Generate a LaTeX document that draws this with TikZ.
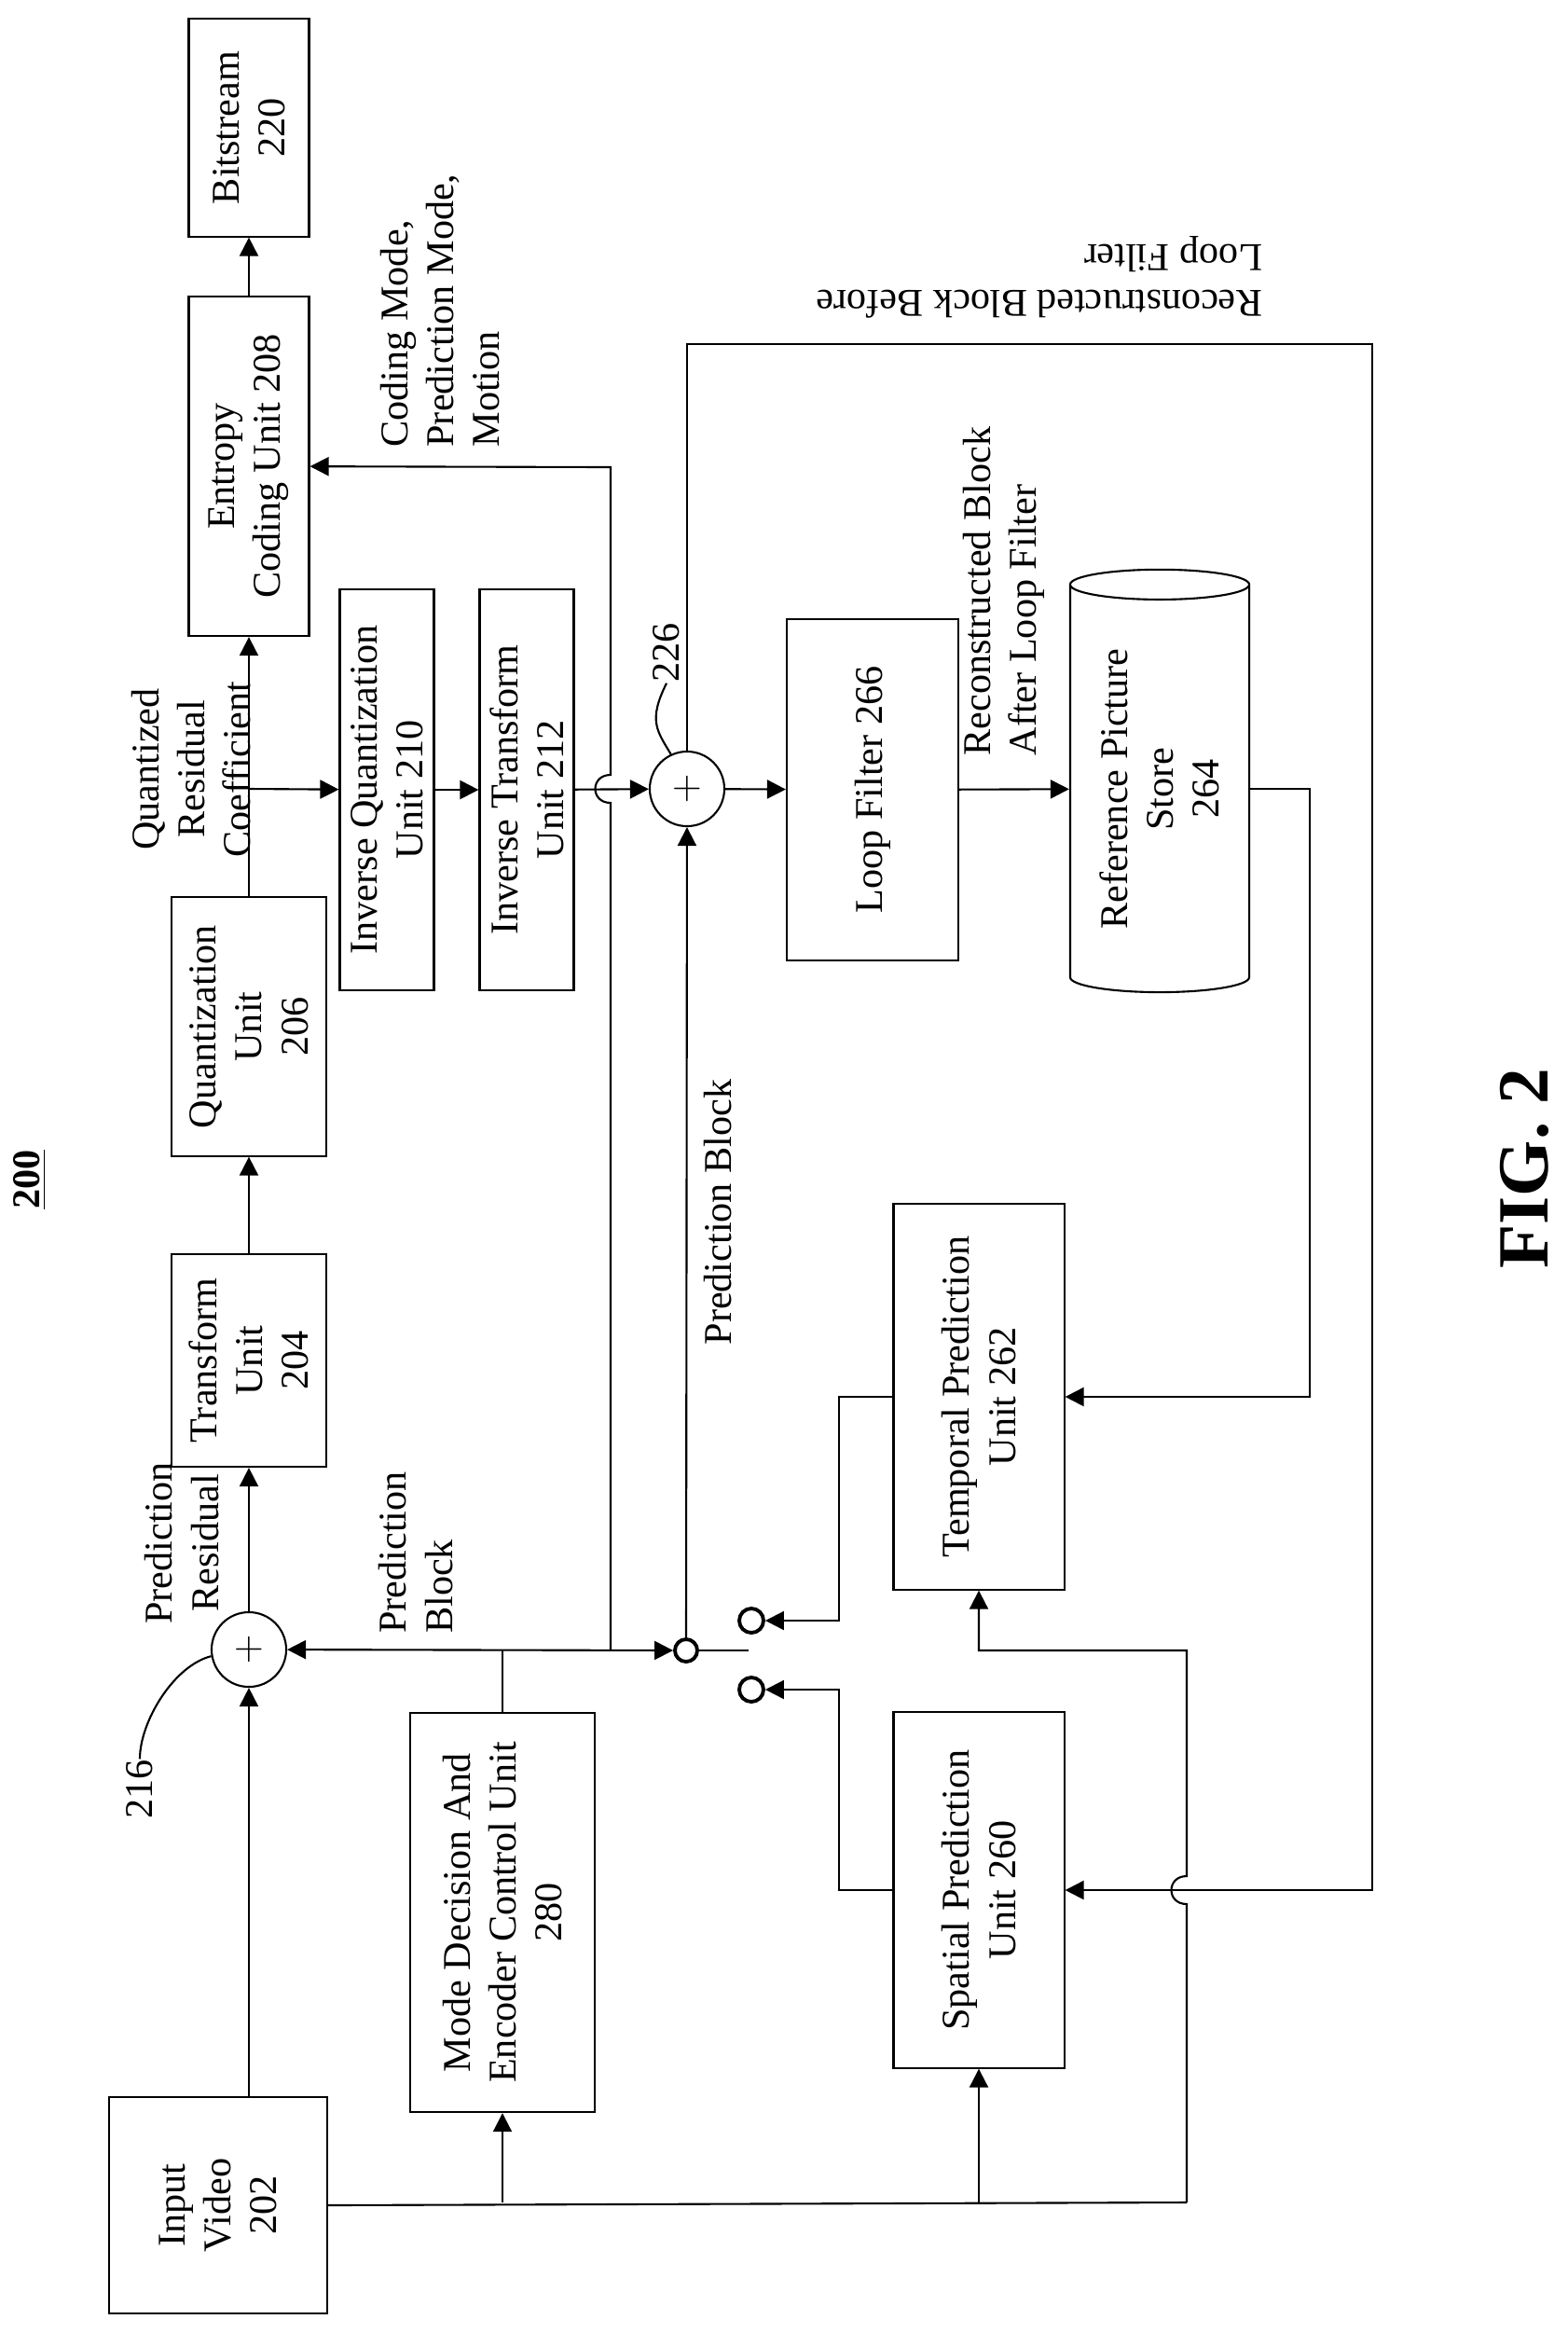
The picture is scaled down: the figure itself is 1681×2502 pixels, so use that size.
\documentclass[tikz,border=0pt]{standalone}
\usepackage{fontspec}
\setmainfont{Liberation Serif}
\usetikzlibrary{shapes.geometric,arrows.meta}

\begin{document}
\begin{tikzpicture}[x=0.01cm, y=-0.01cm, line width=0.6pt,
        font=\fontsize{12}{14}\selectfont,
        blk/.style={draw, rotate=90, align=center, inner sep=0pt},
        addr/.style={draw, circle, minimum size=0.8cm, inner sep=0pt},
        term/.style={draw, circle, line width=1.1pt, minimum size=0.26cm, inner sep=0pt},
        lbl/.style={rotate=90, align=left, inner sep=0pt},
        arr/.style={-{Triangle[length=0.2cm, width=0.2cm]}}]
    \useasboundingbox (0, 0) rectangle (1681, 2502);

    % units
    \node[blk, minimum width=2.32cm, minimum height=2.33cm] (in) at (234, 2365) {Input\\Video\\202};
    \node[blk, minimum width=4.28cm, minimum height=1.98cm] (mode) at (539, 2051) {Mode Decision And\\Encoder Control Unit\\280};
    \node[blk, minimum width=2.28cm, minimum height=1.66cm] (tr) at (267, 1459) {Transform\\Unit\\204};
    \node[blk, minimum width=2.77cm, minimum height=1.66cm] (qu) at (267, 1101) {Quantization\\Unit\\206};
    \node[blk, minimum width=3.64cm, minimum height=1.29cm] (ent) at (267, 500) {Entropy\\Coding Unit 208};
    \node[blk, minimum width=2.33cm, minimum height=1.29cm] (bits) at (267, 137) {Bitstream\\220};
    \node[blk, minimum width=4.30cm, minimum height=1.01cm] (iq) at (415, 847) {Inverse Quantization\\Unit 210};
    \node[blk, minimum width=4.30cm, minimum height=1.01cm] (it) at (565, 847) {Inverse Transform\\Unit 212};
    \node[blk, minimum width=3.65cm, minimum height=1.84cm] (lf) at (936, 847) {Loop Filter 266};
    \node[blk, cylinder, shape aspect=0.25, minimum width=1.92cm, minimum height=4.53cm] (ref) at (1244, 846) {Reference Picture\\Store\\264};
    \node[blk, minimum width=3.81cm, minimum height=1.83cm] (sp) at (1050, 2027) {Spatial Prediction\\Unit 260};
    \node[blk, minimum width=4.13cm, minimum height=1.83cm] (tp) at (1050, 1498) {Temporal Prediction\\Unit 262};

    % adders and switch
    \node[addr] (add1) at (267, 1769) {$+$};
    \node[addr] (add2) at (737, 846) {$+$};
    \node[term, minimum size=0.24cm] (sw) at (736, 1770) {};
    \node[term] (t1) at (806, 1738) {};
    \node[term] (t2) at (806, 1812) {};

    % corner points
    \coordinate (qb) at (267, 846);
    \coordinate (pj) at (539, 1770);
    \coordinate (cj) at (655, 1770);
    \coordinate (cb1) at (655, 861);
    \coordinate (cb2) at (655, 831);
    \coordinate (ct) at (655, 501);
    \coordinate (bl) at (803, 1770);
    \coordinate (c1) at (900, 1738);
    \coordinate (c2) at (900, 1812);
    \coordinate (rr) at (1405, 1498);
    \coordinate (lt) at (1472, 369);
    \coordinate (lb) at (1472, 2027);
    \coordinate (br) at (1273, 2362);
    \coordinate (bb1) at (1273, 2042);
    \coordinate (bb2) at (1273, 2012);
    \coordinate (bt) at (1273, 1770);

    % forward path
    \draw[arr] (add1 |- in.east) -- (add1);
    \draw[arr] (add1) -- (add1 |- tr.west);
    \draw[arr] (tr) -- (qu);
    \draw[arr] (qu) -- (ent);
    \draw[arr] (ent) -- (bits);
    \draw[arr] (qb) -- (iq);
    \draw[arr] (iq) -- (it);
    \draw[arr] (it) -- (add2);
    \draw[arr] (add2) -- (lf);
    \draw[arr] (lf) -- (ref);
    \draw[arr] (ref) -| (rr) -- (tp);
    \draw[arr] (add2) |- (lt) -- (lb) -- (sp);

    % prediction
    \draw[{Triangle[length=0.2cm, width=0.2cm]}-{Triangle[length=0.2cm, width=0.2cm]}] (add1) -- (sw);
    \draw (mode) -- (pj);
    \draw[arr] (cj) -- (cb1) .. controls +(-22, 0) and +(-22, 0) .. (cb2) -- (ct) -- (ent);
    \draw[arr] (sw) -- (add2);
    \draw (sw) -- (bl);
    \draw[arr] (tp.north) -| (c1) -- (t1);
    \draw[arr] (sp.north) -| (c2) -- (t2);

    % input distribution
    \draw (in.south) -- (br);
    \draw[arr] (mode |- br) -- (mode);
    \draw[arr] (sp |- br) -- (sp);
    \draw[arr] (br) -- (bb1) .. controls +(-22, 0) and +(-22, 0) .. (bb2) -- (bt) -| (tp);

    % labels
    \node[lbl, align=center] (lres) at (195, 1655) {Prediction\\Residual};
    \node[lbl] (lpb1) at (446, 1665) {Prediction\\Block};
    \node[lbl, align=center] (lqrc) at (205, 825) {Quantized\\Residual\\Coefficient};
    \node[lbl] (lcm) at (472, 333) {Coding Mode,\\Prediction Mode,\\Motion};
    \node[lbl] (lpb2) at (770, 1300) {Prediction Block};
    \node[lbl] (lafter) at (1077, 634) {Reconstructed Block\\After Loop Filter};
    \node[rotate=180, align=left, inner sep=0pt] (lbefore) at (1115, 297) {Reconstructed Block Before\\Loop Filter};
    \node[lbl] (l216) at (150, 1919) {216};
    \node[lbl] (l226) at (715, 700) {226};
    \draw (l216.east) .. controls +(0, -40) and +(-40, 10) .. (add1.190);
    \draw (l226.west) .. controls +(-20, 40) and +(-15, -25) .. (add2.115);

    \node[lbl, font=\fontsize{12}{14}\selectfont\bfseries] (ttl) at (32, 1265) {\underline{200}};
    \node[lbl, font=\fontsize{22}{24}\selectfont\bfseries] (fig) at (1635, 1253) {FIG. 2};
\end{tikzpicture}
\end{document}
